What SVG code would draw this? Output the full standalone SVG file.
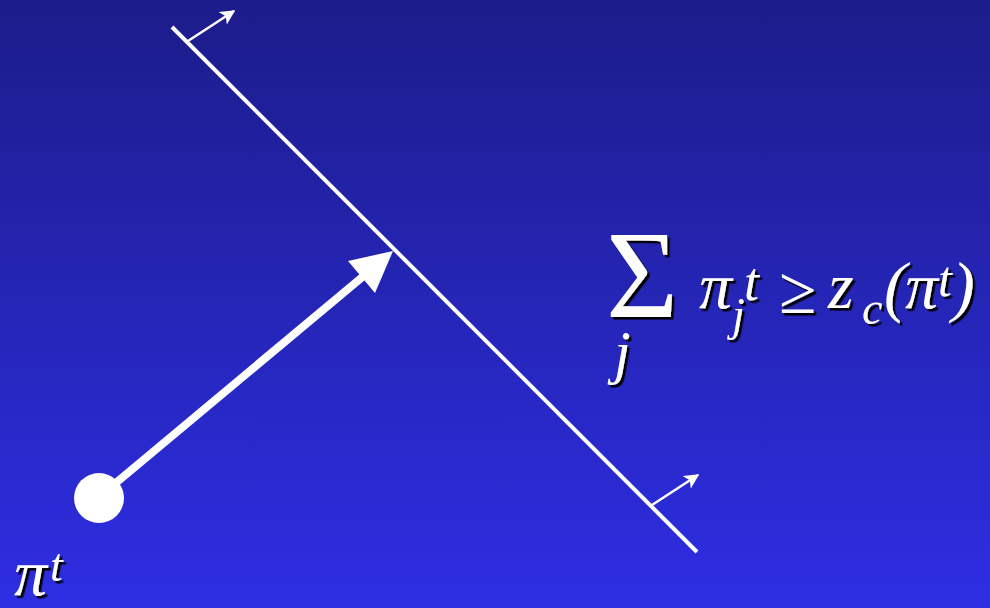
<svg xmlns="http://www.w3.org/2000/svg" width="990" height="608" viewBox="0 0 990 608">
<defs>
<linearGradient id="bg" x1="0" y1="0" x2="0" y2="1">
<stop offset="0" stop-color="#1c1c8a"/>
<stop offset="1" stop-color="#2e2ee4"/>
</linearGradient>
<filter id="sh" x="-20%" y="-20%" width="140%" height="140%">
<feDropShadow dx="2.5" dy="2.5" stdDeviation="0.4" flood-color="#000" flood-opacity="1"/>
</filter>
<marker id="ah" viewBox="0 0 10 10" refX="9" refY="5" markerWidth="15" markerHeight="15" markerUnits="userSpaceOnUse" orient="auto">
<path d="M0,0 L10,5 L0,10 L2.5,5 Z" fill="#fff"/>
</marker>
</defs>
<style>
.m{font-family:"Liberation Serif","Times New Roman",serif;font-style:italic;fill:#fff}
.u{font-family:"Liberation Serif","Times New Roman",serif;fill:#fff}
</style>
<rect width="990" height="608" fill="url(#bg)"/>
<g id="connectors" stroke="#fff" fill="none">
<line id="plane" x1="172" y1="27" x2="697" y2="552" stroke-width="4"/>
<line id="normal-top" x1="188" y1="41" x2="234" y2="11" stroke-width="2.5" marker-end="url(#ah)"/>
<line id="normal-bottom" x1="652" y1="505" x2="698" y2="475" stroke-width="2.5" marker-end="url(#ah)"/>
<line id="step" x1="99" y1="497" x2="366" y2="274" stroke-width="8"/>
<path id="step-head" d="M393,251 L348,261 L375,293 Z" fill="#fff" stroke="none"/>
</g>
<g id="point">
<circle cx="99" cy="498" r="25" fill="#fff"/>
<g filter="url(#sh)">
<text class="m" x="14" y="595" font-size="66">π</text>
<text class="m" x="50" y="581" font-size="46">t</text>
</g>
</g>
<g id="constraint" filter="url(#sh)">
<text class="u" x="606" y="317" font-size="124">Σ</text>
<text class="m" x="614" y="372" font-size="60">j</text>
<text class="m" x="699" y="308" font-size="66">π</text>
<text class="m" x="744" y="300" font-size="54">t</text>
<text class="m" x="732" y="330" font-size="46">j</text>
<text class="u" x="779" y="313" font-size="68">≥</text>
<text class="m" x="828" y="308" font-size="66">z</text>
<text class="m" x="862" y="324" font-size="46">c</text>
<text class="m" x="884" y="309" font-size="68">(</text>
<text class="m" x="905" y="308" font-size="66">π</text>
<text class="m" x="938" y="296" font-size="50">t</text>
<text class="m" x="952" y="309" font-size="68">)</text>
</g>
</svg>
